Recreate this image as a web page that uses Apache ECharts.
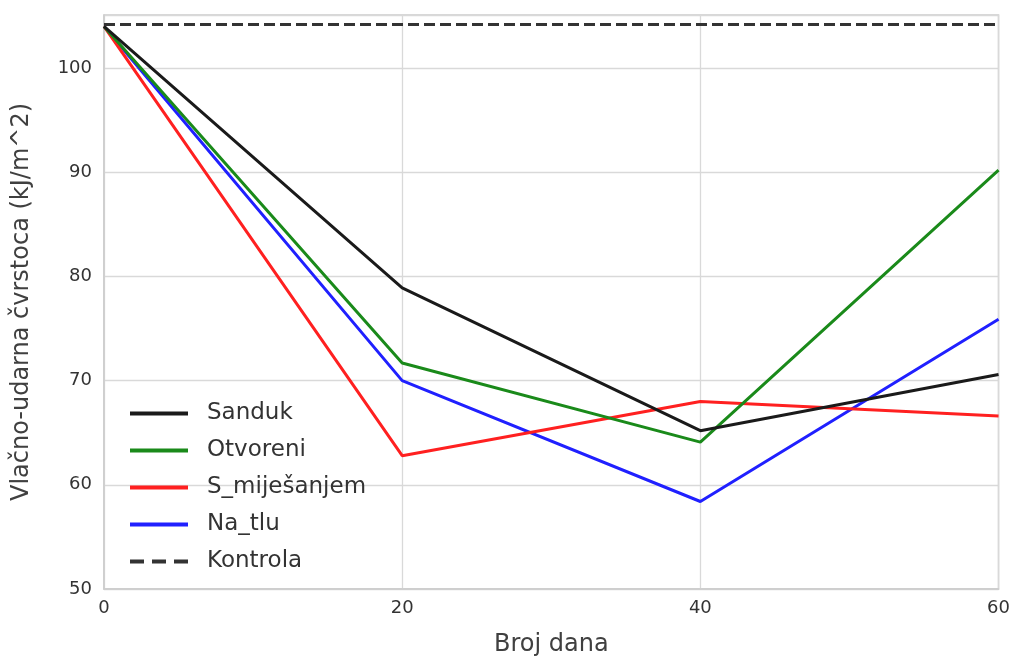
<!DOCTYPE html>
<html><head><meta charset="utf-8">
<script src="https://cdn.jsdelivr.net/npm/echarts@6/dist/echarts.min.js"></script>
<style>html,body{margin:0;padding:0;background:#fff}#c{width:1013px;height:662px}</style>
</head><body><div id="c"></div>
<script>
const days = [0, 20, 40, 60];
const seriesNames = ['Sanduk', 'Otvoreni', 'S_miješanjem', 'Na_tlu', 'Kontrola'];
const sanduk = [104.0, 78.9, 65.2, 70.6];
const otvoreni = [104.0, 71.7, 64.1, 90.2];
const sMijesanjem = [104.0, 62.8, 68.0, 66.6];
const naTlu = [104.0, 70.0, 58.4, 75.9];
const kontrola = [104.2, 104.2, 104.2, 104.2];
const yTicks = [50, 60, 70, 80, 90, 100];
const xTicks = [0, 20, 40, 60];

const colors = ['#1a1a1a', '#1a8a1a', '#ff2020', '#2020ff', '#333333'];
const allData = [sanduk, otvoreni, sMijesanjem, naTlu, kontrola];
const chart = echarts.init(document.getElementById('c'), null, {renderer: 'canvas'});
const font = 'DejaVu Sans, Liberation Sans, sans-serif';
const dashIcon = 'path://M0,0h14v4h-14z M22,0h14v4h-14z M44,0h14v4h-14z';
chart.setOption({
  animation: false,
  textStyle: {fontFamily: font},
  grid: {left: 104, right: 14, top: 15, bottom: 67, show: true, borderColor: '#cccccc', borderWidth: 1.5},
  xAxis: {
    type: 'value', min: xTicks[0], max: xTicks[xTicks.length - 1], interval: 20,
    name: 'Broj dana', nameLocation: 'middle', nameGap: 44,
    nameTextStyle: {fontSize: 24, color: '#404040', fontFamily: font},
    axisLine: {show: true, lineStyle: {color: '#cccccc', width: 1.5}},
    axisTick: {show: false},
    axisLabel: {fontSize: 18, color: '#333333', margin: 10, fontFamily: font},
    splitLine: {show: true, lineStyle: {color: '#d9d9d9', width: 1.3}}
  },
  yAxis: {
    type: 'value', min: yTicks[0], max: 105.1, interval: 10,
    name: 'Vlačno-udarna čvrstoca (kJ/m^2)', nameLocation: 'middle', nameGap: 70, nameRotate: 90,
    nameTextStyle: {fontSize: 24, color: '#404040', fontFamily: font},
    axisLine: {show: true, lineStyle: {color: '#cccccc', width: 1.5}},
    axisTick: {show: false},
    axisLabel: {fontSize: 18, color: '#333333', margin: 12, showMaxLabel: false, fontFamily: font,
      formatter: v => yTicks.includes(v) ? String(v) : ''},
    splitLine: {show: true, lineStyle: {color: '#d9d9d9', width: 1.3}}
  },
  legend: {
    orient: 'vertical', left: 125, top: 397,
    itemWidth: 58, itemHeight: 4, itemGap: 14,
    textStyle: {fontSize: 23, lineHeight: 23, color: '#333333', fontFamily: font, padding: [0, 0, 0, 14]},
    data: seriesNames.map((n, i) => ({name: n, icon: i === 4 ? dashIcon : 'rect'}))
  },
  series: seriesNames.map((n, i) => ({
    name: n, type: 'line', showSymbol: false, symbol: 'none',
    data: days.map((d, j) => [d, allData[i][j]]),
    lineStyle: {color: colors[i], width: 3, type: i === 4 ? [11, 5] : 'solid'},
    itemStyle: {color: colors[i]},
    z: i === 4 ? 1 : 5 - i
  }))
});
</script></body></html>
